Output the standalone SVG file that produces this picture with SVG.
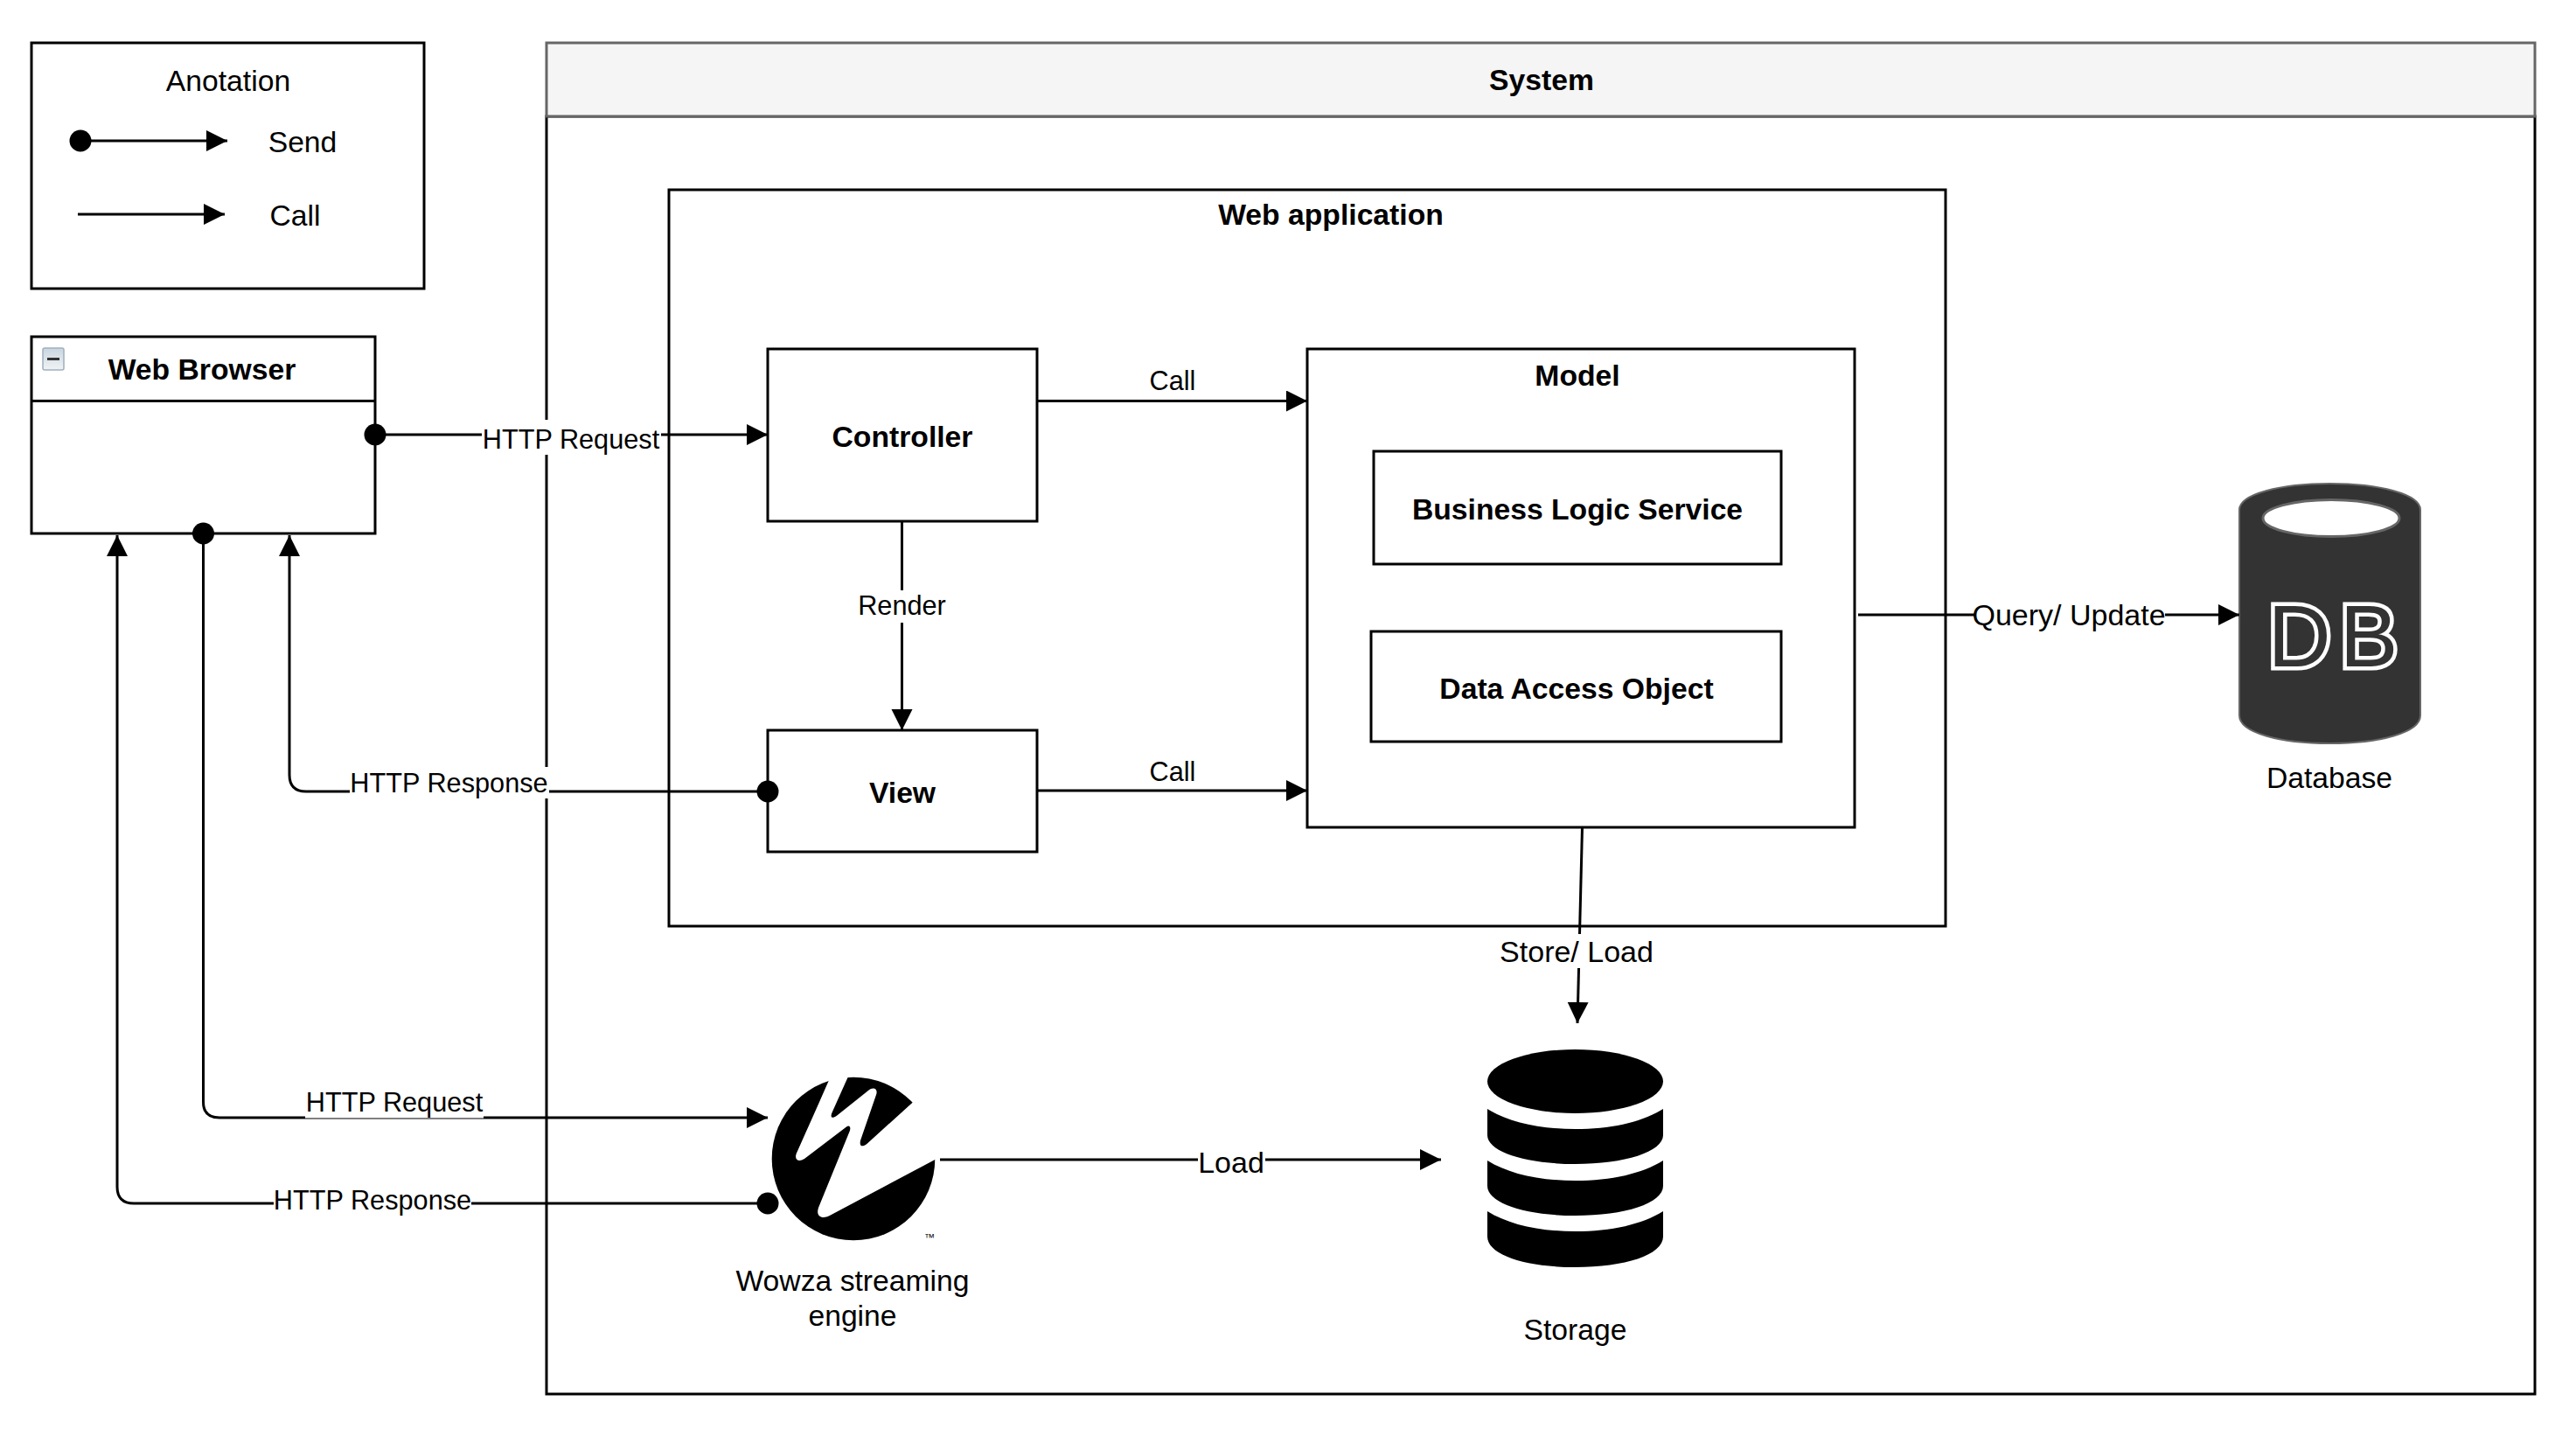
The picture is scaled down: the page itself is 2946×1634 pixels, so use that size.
<svg xmlns="http://www.w3.org/2000/svg" width="2946" height="1634" viewBox="0 0 2946 1634">
<style>
text{font-family:"Liberation Sans",Arial,sans-serif;font-size:33.7px;fill:#000;text-anchor:middle}
.b{font-weight:700}
.s{font-size:30.7px}
.m{font-size:34px}
.box{fill:#fff;stroke:#000;stroke-width:3}
.con{fill:none;stroke:#000;stroke-width:3;marker-end:url(#arrow)}
.send{marker-start:url(#dot)}
.bg{fill:#fff}
</style>
<defs>
<marker id="arrow" markerUnits="userSpaceOnUse" markerWidth="26" markerHeight="26" refX="24" refY="12" orient="auto"><path d="M0,0L24,12L0,24Z" fill="#000"/></marker>
<marker id="dot" markerUnits="userSpaceOnUse" markerWidth="28" markerHeight="28" refX="14" refY="14" orient="auto"><circle cx="14" cy="14" r="12.5" fill="#000"/></marker>
<linearGradient id="ico" x1="0" y1="0" x2="0" y2="1"><stop offset="0" stop-color="#c9d6e0"/><stop offset="1" stop-color="#f0f3f5"/></linearGradient>
</defs>
<g transform="translate(0,1)">
<g id="system">
<rect class="box" x="625" y="132" width="2274" height="1461"/>
<rect x="625" y="48" width="2274" height="84" fill="#f5f5f5" stroke="#666" stroke-width="3"/>
<text class="b" x="1763" y="102">System</text>
</g>
<g id="annotation">
<rect class="box" x="36" y="48" width="449" height="281"/>
<text x="261" y="103">Anotation</text>
<text x="346" y="173">Send</text>
<text x="337.500" y="257">Call</text>
<path class="con send" d="M92,160H260"/>
<path class="con" d="M89,244H257"/>
</g>
<g id="web-browser">
<rect class="box" x="36" y="384" width="393" height="225"/>
<path d="M36,457.500H429" fill="none" stroke="#000" stroke-width="3"/>
<rect x="49" y="397" width="24" height="25" rx="2" fill="url(#ico)" stroke="#9fb0bd" stroke-width="1.500"/>
<rect x="54" y="408" width="14" height="3" fill="#333"/>
<text class="b" x="231" y="433">Web Browser</text>
</g>
<g id="web-application">
<rect class="box" x="765" y="216" width="1460" height="842"/>
<text class="b" x="1522" y="256">Web application</text>
</g>
<g id="controller">
<rect class="box" x="878" y="398" width="308" height="197"/>
<text class="b" x="1032" y="510">Controller</text>
</g>
<g id="view">
<rect class="box" x="878" y="834" width="308" height="139"/>
<text class="b" x="1032" y="917">View</text>
</g>
<g id="model">
<rect class="box" x="1495" y="398" width="626" height="547"/>
<text class="b" x="1804" y="440">Model</text>
</g>
<g id="business-logic">
<rect class="box" x="1571" y="515" width="466" height="129"/>
<text class="b" x="1804" y="593">Business Logic Service</text>
</g>
<g id="data-access">
<rect class="box" x="1568" y="721" width="469" height="126"/>
<text class="b" x="1803" y="798">Data Access Object</text>
</g>
<g id="database">
<path d="M2561,582C2561,564 2608,552 2664.500,552C2721,552 2768,564 2768,582V817C2768,837 2721,849 2664.500,849C2608,849 2561,837 2561,817Z" fill="#333" stroke="#666" stroke-width="2"/>
<ellipse cx="2666" cy="591.500" rx="78" ry="21" fill="#fff" stroke="#666" stroke-width="3"/>
<text x="2673" y="761" style="font-size:100px;fill:#333;stroke:#fff;stroke-width:9;paint-order:stroke;letter-spacing:10px">DB</text>
<text x="2664" y="900">Database</text>
</g>
<g id="wowza">
<circle cx="976" cy="1324" r="93.300" fill="#000"/>
<g transform="translate(780,1180) scale(.3333)">
<path fill="#fff" d="M503,165C470,240 430,330 392,415C385,435 400,445 420,432L565,322C572,316 580,320 576,335L468,600C458,630 480,640 505,628L868,435L900,430V200L790,240L635,380C618,393 608,390 612,370L667,210C672,190 655,185 640,197L530,285C515,295 508,290 514,275L570,150L540,130Z"/>
</g>
<text x="1063" y="1418" style="font-size:12px">™</text>
<text x="975" y="1475">Wowza streaming</text>
<text x="975" y="1515">engine</text>
</g>
<g id="storage">
<ellipse cx="1801.500" cy="1235.500" rx="100.500" ry="36.500" fill="#000"/>
<path fill="#000" d="M1701,1267C1725,1282 1760,1290 1801.500,1290C1843,1290 1878,1282 1902,1267V1297C1902,1316 1858,1330 1801.500,1330C1745,1330 1701,1316 1701,1297Z"/>
<path fill="#000" d="M1701,1326C1725,1341 1760,1349 1801.500,1349C1843,1349 1878,1341 1902,1326V1355C1902,1375 1858,1389 1801.500,1389C1745,1389 1701,1375 1701,1355Z"/>
<path fill="#000" d="M1701,1384C1725,1399 1760,1407 1801.500,1407C1843,1407 1878,1399 1902,1384V1413C1902,1434 1858,1448 1801.500,1448C1745,1448 1701,1434 1701,1413Z"/>
<text x="1801.500" y="1531">Storage</text>
</g>

<g id="connectors">
<path class="con send" d="M429,496H878"/>
<path class="con" d="M1186,457.500H1495"/>
<path class="con" d="M1186,903H1495"/>
<path class="con" d="M1031.500,595V834"/>
<path class="con" d="M2125,702H2561"/>
<path class="con" d="M1809.500,945L1804,1169"/>
<path class="con send" d="M878,904H350Q331,904 331,885V611"/>
<path class="con send" d="M232.500,609V1259Q232.500,1277 251,1277H878"/>
<path class="con send" d="M878,1375H153Q134,1375 134,1356V611"/>
<path class="con" d="M1075,1325H1648"/>
<g id="connector-labels">
<rect class="bg" x="551" y="479" width="205" height="40"/><text class="s" x="653" y="512">HTTP Request</text>
<text class="s" x="1341" y="445">Call</text>
<text class="s" x="1341" y="892">Call</text>
<rect class="bg" x="980" y="674" width="103" height="37"/><text class="s" x="1031.500" y="702">Render</text>
<rect class="bg" x="2258" y="682" width="218" height="40"/><text class="m" x="2366" y="713.500">Query/ Update</text>
<rect class="bg" x="400" y="876" width="228" height="36"/><text class="s" x="513.500" y="905">HTTP Response</text>
<rect class="bg" x="1716" y="1067" width="175" height="39"/><text class="m" x="1803" y="1099">Store/ Load</text>
<rect class="bg" x="349" y="1240" width="204" height="37.500"/><text class="s" x="451" y="1269.500">HTTP Request</text>
<rect class="bg" x="313" y="1355" width="226" height="36"/><text class="s" x="426" y="1381.500">HTTP Response</text>
<rect class="bg" x="1370" y="1308" width="77" height="36"/><text class="m" x="1408" y="1340">Load</text>
</g>
</g>
</g>
</svg>
